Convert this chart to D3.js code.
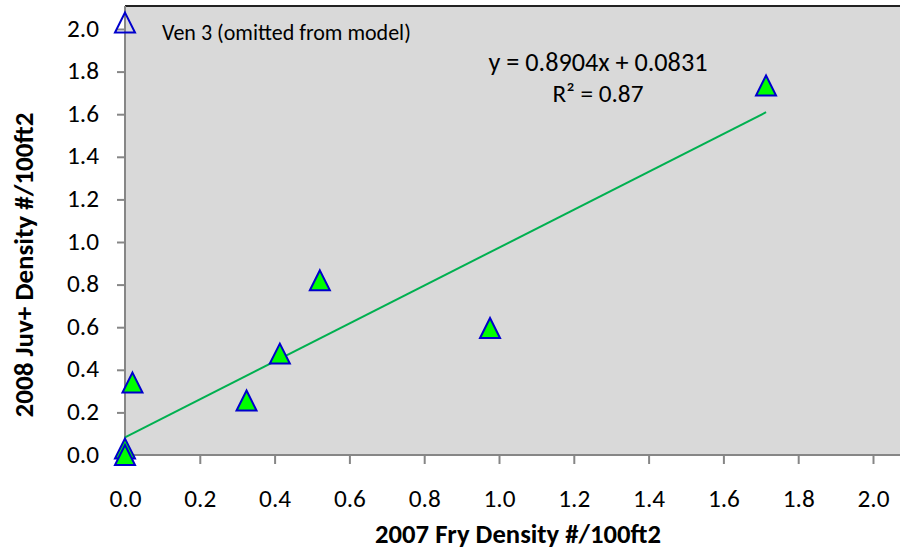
<!DOCTYPE html>
<html><head><meta charset="utf-8">
<script src="https://cdn.jsdelivr.net/npm/d3@7"></script>
<style>body{margin:0;background:#fff;} svg{display:block;}</style>
</head><body>
<svg id="c" width="900" height="550"></svg>
<script>
const xFry = [0.0, 0.0, 0.02, 0.325, 0.414, 0.521, 0.976, 1.714];
const yJuv = [0.03, 0.0, 0.34, 0.256, 0.476, 0.82, 0.596, 1.735];
const omittedPoint = [0.0, 2.03];
const omittedLabel = "Ven 3 (omitted from model)";
const slope = 0.8904, intercept = 0.0831, r2 = "0.87";
const xTicks = [0,0.2,0.4,0.6,0.8,1.0,1.2,1.4,1.6,1.8,2.0];
const yTicks = [0,0.2,0.4,0.6,0.8,1.0,1.2,1.4,1.6,1.8,2.0];
const xTitle = "2007 Fry Density #/100ft2";
const yTitle = "2008 Juv+ Density #/100ft2";

const FONT = "Carlito, Calibri, Lato, sans-serif";
const svg = d3.select("#c");
const x = d3.scaleLinear().domain([0,2]).range([125,873]);
const y = d3.scaleLinear().domain([0,2]).range([455,29]);

function fit(sel, target){
  const n = sel.node();
  const fs = +sel.attr("font-size");
  const w = n.getComputedTextLength();
  if (w > 0) sel.attr("font-size", (fs*target/w).toFixed(2));
  return sel;
}

// plot area
svg.append("rect").attr("x",125).attr("y",6).attr("width",775).attr("height",449).attr("fill","#d9d9d9");
svg.append("line").attr("x1",125).attr("x2",900).attr("y1",6).attr("y2",6).attr("stroke","#222").attr("stroke-width",2);

// axes
const xAxis = d3.axisBottom(x).tickValues(xTicks).tickFormat(d3.format(".1f")).tickSize(9).tickPadding(0);
const gx = svg.append("g").attr("transform","translate(0,455)").call(xAxis);
gx.select(".domain").attr("d","M125,0H900").attr("stroke","#868686").attr("stroke-width",2);
gx.selectAll(".tick line").attr("stroke","#868686").attr("stroke-width",2);
gx.selectAll("text").attr("font-family",FONT).attr("font-size",20).attr("fill","#000").attr("dy",null).attr("y",52);

const yAxis = d3.axisLeft(y).tickValues(yTicks).tickFormat(d3.format(".1f")).tickSize(8).tickPadding(18);
const gy = svg.append("g").attr("transform","translate(125,0)").call(yAxis);
gy.select(".domain").attr("d","M0,6V455").attr("stroke","#868686").attr("stroke-width",2);
gy.selectAll(".tick line").attr("stroke","#868686").attr("stroke-width",2);
gy.selectAll("text").attr("font-family",FONT).attr("font-size",20).attr("fill","#000").attr("x",-26).attr("dy",null).attr("y",7);

const probe = gx.select(".tick text");
const base = probe.node().getComputedTextLength();
const tickFs = (20*32/base).toFixed(2);
gx.selectAll("text").attr("font-size",tickFs);
gy.selectAll("text").attr("font-size",tickFs);

// trend line
const xmax = d3.max(xFry);
svg.append("line")
  .attr("x1",x(0)).attr("y1",y(intercept))
  .attr("x2",x(xmax)).attr("y2",y(intercept+slope*xmax))
  .attr("stroke","#00b050").attr("stroke-width",2);

// markers: triangle with bbox centred on the point (width = height)
const triType = { draw(ctx, size){ const h = Math.sqrt(size); ctx.moveTo(0,-h/2); ctx.lineTo(h/2,h/2); ctx.lineTo(-h/2,h/2); ctx.closePath(); } };
const tri = d3.symbol().type(triType).size(400);
const pts = xFry.map((v,i)=>[v,yJuv[i]]);
svg.selectAll("path.pt").data(pts).join("path").attr("class","pt")
  .attr("d",tri)
  .attr("transform",d=>`translate(${x(d[0])},${y(d[1])})`)
  .attr("fill","#00ff00").attr("stroke","#0000cc").attr("stroke-width",2);
svg.append("path").attr("d",tri)
  .attr("transform",`translate(${x(omittedPoint[0])},${y(omittedPoint[1])})`)
  .attr("fill","none").attr("stroke","#0000cc").attr("stroke-width",2);

// annotations
fit(svg.append("text").attr("x",162).attr("y",40).attr("font-family",FONT).attr("font-size",17).text(omittedLabel), 249);
fit(svg.append("text").attr("x",598).attr("y",71).attr("text-anchor","middle").attr("font-family",FONT).attr("font-size",20)
  .text(`y = ${slope.toFixed(4)}x + ${intercept.toFixed(4)}`), 219);
fit(svg.append("text").attr("x",598).attr("y",102).attr("text-anchor","middle").attr("font-family",FONT).attr("font-size",20)
  .text(`R² = ${r2}`), 91);

// titles
fit(svg.append("text").attr("x",518).attr("y",543).attr("text-anchor","middle").attr("font-family",FONT)
  .attr("font-size",20).attr("font-weight","bold").text(xTitle), 286);
fit(svg.append("text").attr("transform","translate(33,265) rotate(-90)").attr("text-anchor","middle").attr("font-family",FONT)
  .attr("font-size",20).attr("font-weight","bold").text(yTitle), 305);
</script>
</body></html>
